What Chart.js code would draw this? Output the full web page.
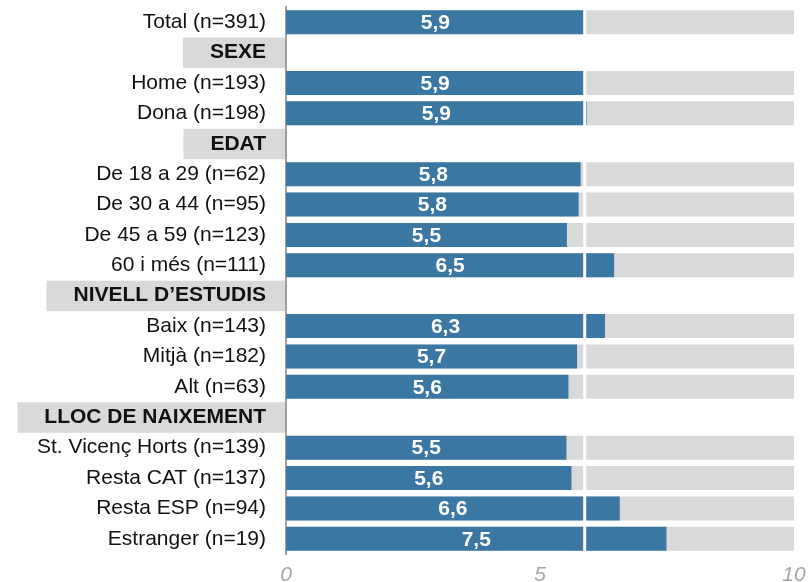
<!DOCTYPE html>
<html>
<head>
<meta charset="utf-8">
<script src="https://cdn.jsdelivr.net/npm/chart.js@4.4.0/dist/chart.umd.min.js"></script>
<style>
  html, body { margin: 0; padding: 0; background: #fff; }
  #wrap { width: 810px; height: 582px; }
</style>
</head>
<body>
<div id="wrap"><canvas id="chart" width="810" height="582"></canvas></div>
<script>
// rows of the chart (null value = section header)
const categories = [
  "Total (n=391)", "SEXE", "Home (n=193)", "Dona (n=198)", "EDAT",
  "De 18 a 29 (n=62)", "De 30 a 44 (n=95)", "De 45 a 59 (n=123)", "60 i més (n=111)",
  "NIVELL D’ESTUDIS", "Baix (n=143)", "Mitjà (n=182)", "Alt (n=63)",
  "LLOC DE NAIXEMENT", "St. Vicenç Horts (n=139)", "Resta CAT (n=137)", "Resta ESP (n=94)", "Estranger (n=19)"
];
const scores = [
  5.88, null, 5.87, 5.92, null,
  5.8, 5.76, 5.53, 6.46,
  null, 6.28, 5.73, 5.56,
  null, 5.52, 5.62, 6.57, 7.49
];
const maxScore = 10;
const xTicks = [0, 5, 10];

const isHeader = scores.map(v => v === null);
const background = scores.map(v => (v === null ? null : maxScore));
const fmt = v => v.toFixed(1).replace(".", ",");

const BLUE = "#3A77A3";
const GREY = "#D9D9D9";
const FONT = "'Liberation Sans', Arial, sans-serif";
const LABEL_SIZE = 21;

// grey boxes behind header labels (drawn before the axes so text stays on top)
const headerBoxes = {
  id: "headerBoxes",
  beforeDraw(chart) {
    const { ctx, scales } = chart;
    const y = scales.y;
    ctx.save();
    ctx.font = "bold " + LABEL_SIZE + "px " + FONT;
    categories.forEach((c, i) => {
      if (!isHeader[i]) return;
      const cy = y.getPixelForValue(i);
      const w = ctx.measureText(c).width;
      const right = chart.chartArea.left - 1;
      const left = right - 20 - w - 26;
      ctx.fillStyle = GREY;
      ctx.fillRect(left, cy - 15, right - left, 30.5);
    });
    ctx.restore();
  }
};

// white reference line at the total and value labels
const overlay = {
  id: "overlay",
  afterDatasetsDraw(chart) {
    const { ctx, scales } = chart;
    const x = scales.x, y = scales.y;
    ctx.save();
    const lx = x.getPixelForValue(scores[0]);
    ctx.strokeStyle = "#fff";
    ctx.lineWidth = 3;
    scores.forEach((v, i) => {
      if (v === null) return;
      const cy = y.getPixelForValue(i);
      ctx.beginPath();
      ctx.moveTo(lx, cy - 13);
      ctx.lineTo(lx, cy + 13);
      ctx.stroke();
    });
    ctx.fillStyle = "#fff";
    ctx.font = "bold " + LABEL_SIZE + "px " + FONT;
    ctx.textAlign = "center";
    ctx.textBaseline = "middle";
    scores.forEach((v, i) => {
      if (v === null) return;
      const cx = (x.getPixelForValue(0) + x.getPixelForValue(v)) / 2;
      ctx.fillText(fmt(v), cx, y.getPixelForValue(i) + 1);
    });
    ctx.restore();
  }
};

new Chart(document.getElementById("chart").getContext("2d"), {
  type: "bar",
  data: {
    labels: categories,
    datasets: [
      {
        data: scores,
        backgroundColor: BLUE,
        grouped: false,
        barPercentage: 0.79,
        categoryPercentage: 1,
      },
      {
        data: background,
        backgroundColor: GREY,
        grouped: false,
        barPercentage: 0.79,
        categoryPercentage: 1,
      },
    ],
  },
  options: {
    indexAxis: "y",
    responsive: false,
    animation: false,
    layout: { padding: { top: 7, right: 16, left: 0, bottom: 0 } },
    plugins: { legend: { display: false }, tooltip: { enabled: false } },
    scales: {
      x: {
        min: 0,
        max: maxScore,
        afterBuildTicks: axis => { axis.ticks = xTicks.map(v => ({ value: v })); },
        afterFit: axis => { axis.height = 28; axis.paddingLeft = 0; axis.paddingRight = 0; },
        grid: { display: false, drawTicks: false },
        border: { display: false },
        ticks: {
          color: "#A6A6A6",
          padding: 9,
          font: { family: FONT, size: LABEL_SIZE, style: "italic" },
        },
      },
      y: {
        afterFit: axis => { axis.width = 286; axis.paddingTop = 0; axis.paddingBottom = 0; },
        grid: { display: false, drawTicks: false },
        border: { display: true, color: "#A0A0A0", width: 2 },
        ticks: {
          color: "#111",
          padding: 20,
          autoSkip: false,
          font: ctx => ({
            family: FONT,
            size: LABEL_SIZE,
            weight: isHeader[ctx.index] ? "bold" : "normal",
          }),
        },
      },
    },
  },
  plugins: [headerBoxes, overlay],
});
</script>
</body>
</html>
